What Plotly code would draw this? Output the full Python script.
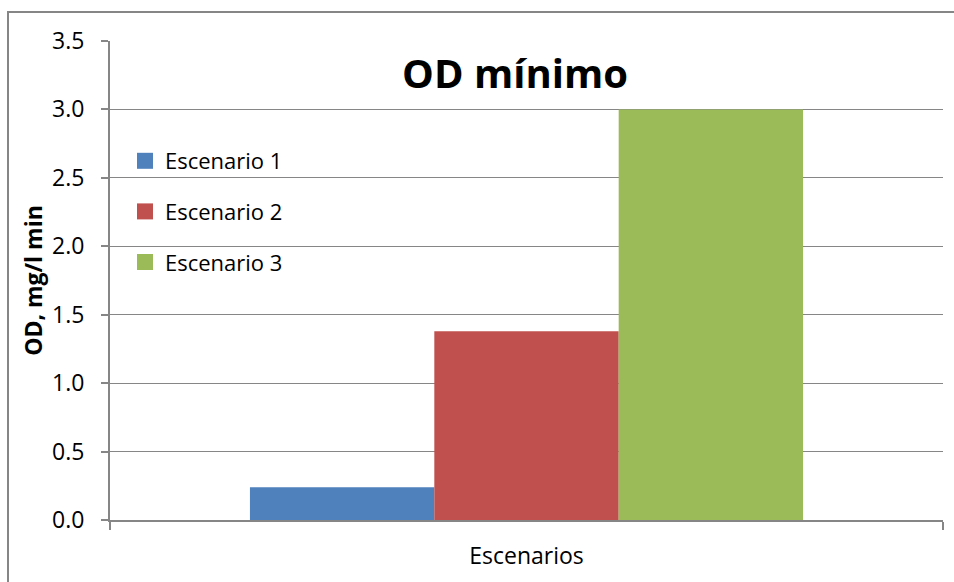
import plotly.graph_objects as go

# Data
category = ["Escenarios"]
series_names = ["Escenario 1", "Escenario 2", "Escenario 3"]
series_values = [0.24, 1.38, 3.0]
series_colors = ["#4F81BD", "#C0504D", "#9BBB59"]

font_family = "'Open Sans', Lato, sans-serif"
grid_color = "#868686"

fig = go.Figure()
for name, val, col in zip(series_names, series_values, series_colors):
    fig.add_trace(go.Bar(
        x=category, y=[val], name=name,
        marker=dict(color=col, line=dict(width=0)),
        showlegend=False, legendgroup=name,
    ))
    # legend entry with a larger square swatch
    fig.add_trace(go.Scatter(
        x=[None], y=[None], mode="markers", name=name, legendgroup=name,
        marker=dict(symbol="square", size=16, color=col, line=dict(width=0)),
        hoverinfo="skip",
    ))

fig.update_layout(
    width=954, height=582,
    margin=dict(l=110, r=11, t=41, b=62),
    paper_bgcolor="white", plot_bgcolor="white",
    barmode="group", bargap=0.336, bargroupgap=0,
    font=dict(family=font_family, color="black", size=22),
    title=dict(text="<b>OD mínimo</b>", x=515 / 954, xanchor="center",
               y=1 - 74 / 582, yanchor="middle",
               font=dict(size=40, family=font_family, color="black")),
    showlegend=True,
    legend=dict(x=(125 - 110) / 833, y=1 - (140 - 41) / 479,
                xanchor="left", yanchor="top",
                bgcolor="rgba(0,0,0,0)", font=dict(size=22),
                traceorder="grouped", tracegroupgap=19, itemwidth=30),
    xaxis=dict(
        showline=True, linecolor=grid_color, linewidth=2,
        ticks="outside", tickson="boundaries", ticklen=8, tickwidth=2,
        tickcolor=grid_color, showgrid=False,
        tickfont=dict(size=23), ticklabelstandoff=14,
    ),
    yaxis=dict(
        range=[0, 3.5], dtick=0.5, tickformat=".1f",
        showline=True, linecolor=grid_color, linewidth=2,
        ticks="outside", ticklen=7, tickwidth=2, tickcolor=grid_color,
        showgrid=True, gridcolor=grid_color, gridwidth=1,
        zeroline=False, tickfont=dict(size=23), ticklabelstandoff=12,
        title=dict(text="<b>OD, mg/l min</b>", font=dict(size=23), standoff=3),
    ),
)

# Chart border
fig.add_shape(type="rect", xref="paper", yref="paper",
              x0=-102 / 833, x1=1.2, y0=-0.3, y1=1 + 29 / 479,
              line=dict(color="#868686", width=2), fillcolor="rgba(0,0,0,0)",
              layer="below")

fig.write_html("out.html")
